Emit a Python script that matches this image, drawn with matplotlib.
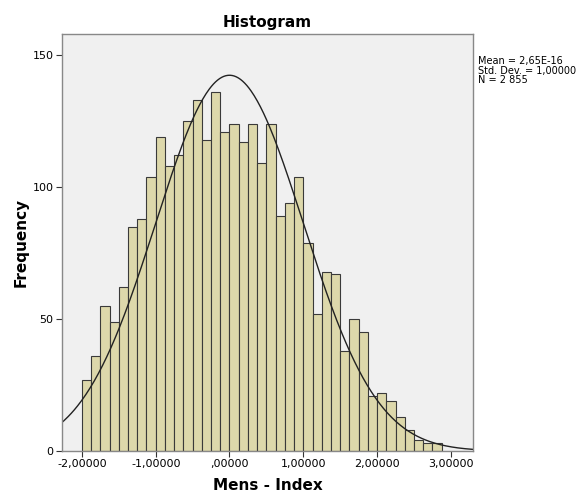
import numpy as np
import matplotlib
matplotlib.use('Agg')
import matplotlib.pyplot as plt

# --- DATA ---
BIN_START = -2.0
BIN_WIDTH = 0.125
counts = [27, 36, 55, 49, 62, 85, 88, 104, 119, 108, 112, 125, 133, 118, 136, 121,
          124, 117, 124, 109, 124, 89, 94, 104, 79, 52, 68, 67, 38, 50, 45, 21,
          22, 19, 13, 8, 4, 3, 3]
x_ticks = [-2, -1, 0, 1, 2, 3]
x_tick_labels = ['-2,00000', '-1,00000', ',00000', '1,00000', '2,00000', '3,00000']
y_ticks = [0, 50, 100, 150]
MEAN = 0.0
STD = 1.0
N = 2855

# --- FIGURE ---
fig = plt.figure(figsize=(5.88, 4.95), dpi=100)
ax = fig.add_axes([62 / 588, 44 / 495, 411 / 588, 417 / 495])
ax.set_facecolor('#f0f0f0')

edges = BIN_START + BIN_WIDTH * np.arange(len(counts))
ax.bar(edges, counts, width=BIN_WIDTH, align='edge', color='#ddd8ab',
       edgecolor='#3a3a3a', linewidth=0.8)

# fitted normal curve
xs = np.linspace(-2.3, 3.35, 400)
ys = N * BIN_WIDTH * np.exp(-0.5 * ((xs - MEAN) / STD) ** 2) / (STD * np.sqrt(2 * np.pi))
ax.plot(xs, ys, color='#222222', linewidth=1.0)

ax.set_xlim(-2.27, 3.30)
ax.set_ylim(0, 158)
ax.set_xticks(x_ticks)
ax.set_xticklabels(x_tick_labels)
ax.set_yticks(y_ticks)
ax.tick_params(labelsize=8, direction='out', length=4, color='#333333', pad=2)

for s in ax.spines.values():
    s.set_color('#888888')
    s.set_linewidth(1.0)

ax.set_title('Histogram', fontsize=11, fontweight='bold', pad=5)
ax.set_xlabel('Mens - Index', fontsize=11, fontweight='bold', labelpad=6)
ax.set_ylabel('Frequency', fontsize=11, fontweight='bold', labelpad=3)

fig.text(478 / 588, 1 - 56 / 495,
         'Mean = 2,65E-16\nStd. Dev. = 1,00000\nN = 2 855',
         fontsize=7, va='top', ha='left', linespacing=0.95)

fig.savefig('out.png', dpi=100)
